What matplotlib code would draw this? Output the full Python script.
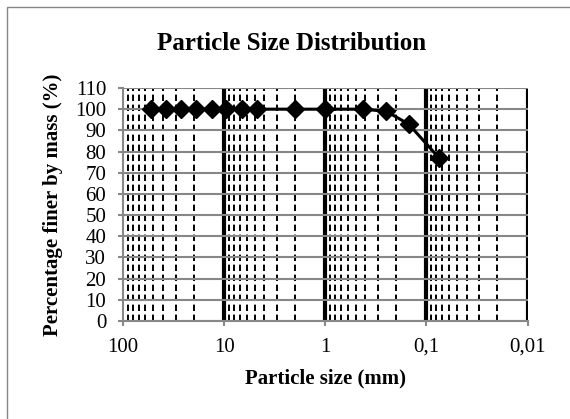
import matplotlib
matplotlib.use('Agg')
import matplotlib.pyplot as plt
import matplotlib.patches as patches
from matplotlib.ticker import LogLocator, FuncFormatter, MultipleLocator, NullFormatter

# sieve sizes (mm) and percent passing
sizes = [53, 37.5, 26.5, 19, 13.2, 9.5, 6.7, 4.75, 2, 1, 0.425, 0.25, 0.15, 0.075]
passing = [100, 100, 100, 100, 100, 100, 100, 100, 100, 100, 100, 99, 93, 77]

x_ticks = [100, 10, 1, 0.1, 0.01]
x_tick_labels = ['100', '10', '1', '0,1', '0,01']

plt.rcParams['font.family'] = ['Liberation Serif', 'DejaVu Serif']
plt.rcParams['lines.scale_dashes'] = False

W, H = 570, 419
fig = plt.figure(figsize=(W / 100, H / 100), dpi=100)
ax = fig.add_axes([123 / W, 1 - 321 / H, (527.5 - 123) / W, (321 - 88) / H])

grey = '#878787'

# chart area border (only left/top visible in the reference)
fig.patches.append(patches.Rectangle((6.5 / W, -0.1), 1.2, 1 - 7 / H + 0.1,
                                     transform=fig.transFigure, fill=False,
                                     edgecolor=grey, linewidth=1.0))

ax.plot(sizes, passing, color='black', linewidth=2.2, marker='D',
        markersize=9.5, zorder=5, clip_on=False)

ax.set_xscale('log')
ax.set_xlim(100, 0.01)
ax.set_ylim(0, 110)
ax.yaxis.set_major_locator(MultipleLocator(10))
ax.xaxis.set_major_locator(LogLocator(base=10))
ax.xaxis.set_minor_locator(LogLocator(base=10, subs=range(2, 10), numticks=50))
ax.xaxis.set_minor_formatter(NullFormatter())
lab = dict(zip(x_ticks, x_tick_labels))
ax.xaxis.set_major_formatter(FuncFormatter(
    lambda v, p: min(lab.items(), key=lambda kv: abs(kv[0] - v))[1]))

ax.grid(axis='y', color=grey, linewidth=1.5, zorder=1)
ax.grid(axis='x', which='major', color='black', linewidth=3.0, zorder=2)
ax.grid(axis='x', which='minor', color='black', linewidth=1.4,
        linestyle=(0, (4.6, 2.6)), zorder=2)
ax.set_axisbelow(True)

fig.canvas.draw()
for t in ax.xaxis.get_major_ticks():
    if abs(t.get_loc() - 100) < 1e-6:
        t.gridline.set_visible(False)

for s in ['top', 'right']:
    ax.spines[s].set_visible(False)
for s in ['left', 'bottom']:
    ax.spines[s].set_color(grey)
    ax.spines[s].set_linewidth(1.5)
    ax.spines[s].set_zorder(3)

ax.tick_params(axis='both', which='major', length=3.6, width=1.5, color=grey,
               labelsize=15, pad=8.5)
ax.tick_params(axis='x', which='minor', length=0)

ax.set_xlabel('Particle size (mm)', fontsize=15, fontweight='bold')
ax.xaxis.set_label_coords(0.5, -0.205)
ax.set_ylabel('Percentage finer by mass (%)', fontsize=15, fontweight='bold')
ax.yaxis.set_label_coords(-0.149, 0.5)

fig.text(292 / W, 1 - 50 / H, 'Particle Size Distribution', ha='center',
         va='baseline', fontsize=18, fontweight='bold')

fig.savefig('out.png', dpi=100)
